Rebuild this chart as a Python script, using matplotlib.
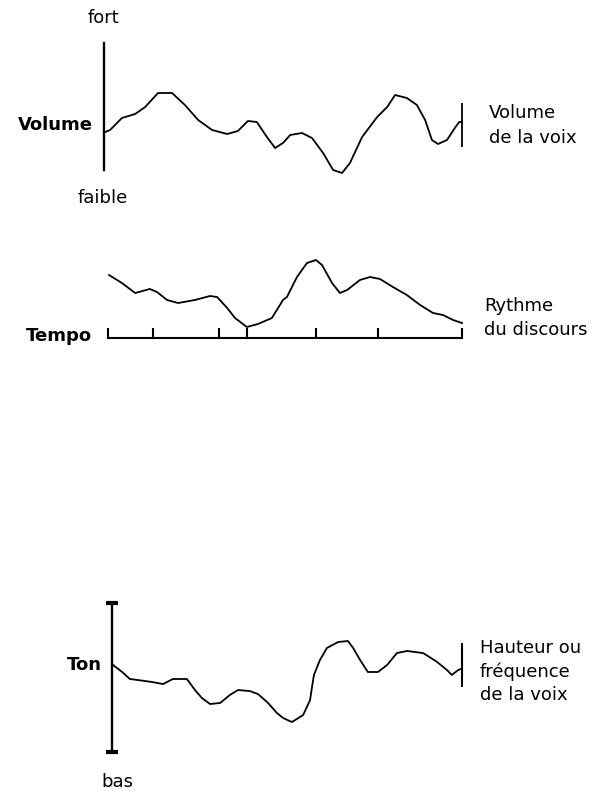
import matplotlib
matplotlib.use("Agg")
import matplotlib.pyplot as plt

#=======# données #=======#
# Volume de la voix (0 = faible, 10 = fort), temps 0..100
vol_t = [0, 1.7, 5.0, 8.7, 11.5, 15.1, 19.0, 22.6, 26.3, 30.2, 34.4, 37.4, 40.2, 42.7,
         45.5, 47.8, 50.0, 52.0, 55.3, 58.1, 61.2, 64.0, 66.5, 68.7, 72.1, 76.3, 79.1,
         81.3, 84.6, 87.4, 89.7, 91.6, 93.3, 95.8, 98.0, 99.2, 100]
vol_v = [3.0, 3.2, 4.16, 4.48, 5.04, 6.16, 6.16, 5.2, 4.0, 3.2, 2.88, 3.12, 3.92, 3.84,
         2.64, 1.76, 2.16, 2.8, 2.96, 2.56, 1.36, 0.0, -0.24, 0.56, 2.64, 4.24, 5.04,
         6.0, 5.76, 5.2, 4.0, 2.4, 2.08, 2.4, 3.36, 3.84, 3.84]

# Rythme du discours
tempo_t = [1.4, 5.0, 8.7, 12.8, 14.8, 17.6, 20.7, 25.4, 29.6, 31.6, 34.4, 36.6, 39.9,
           43.0, 46.9, 50.0, 51.1, 53.9, 56.7, 59.2, 60.9, 63.7, 65.9, 67.9, 71.5, 74.3,
           77.1, 80.7, 84.6, 88.3, 91.9, 94.7, 97.5, 100]
tempo_r = [6.3, 5.5, 4.5, 4.9, 4.6, 3.8, 3.5, 3.8, 4.2, 4.1, 3.0, 2.0, 1.1,
           1.4, 2.0, 3.8, 4.1, 6.1, 7.5, 7.8, 7.3, 5.5, 4.5, 4.8, 5.8, 6.1,
           5.9, 5.1, 4.3, 3.3, 2.5, 2.3, 1.8, 1.5]
tempo_ticks = [1, 13.7, 32.1, 39.9, 59.2, 76.5, 100]

# Hauteur ou fréquence de la voix (0 = bas, 10 = haut)
ton_t = [0.3, 2.9, 5.1, 7.4, 11.4, 14.6, 17.4, 21.4, 23.7, 25.7, 28.0, 30.9, 33.7, 36.0,
         39.4, 41.7, 44.6, 47.1, 48.9, 51.4, 54.6, 56.6, 57.1, 57.7, 59.4, 61.4, 64.6,
         67.4, 68.9, 70.9, 73.1, 76.0, 78.6, 81.4, 84.3, 88.9, 92.9, 95.7, 97.1, 98.9, 100]
ton_h = [5.84, 5.37, 4.9, 4.83, 4.7, 4.56, 4.9, 4.9, 4.16, 3.62, 3.22, 3.29, 3.83, 4.16,
         4.09, 3.89, 3.29, 2.62, 2.28, 2.01, 2.48, 3.49, 4.3, 5.17, 6.17, 6.98, 7.38,
         7.45, 6.98, 6.17, 5.37, 5.37, 5.84, 6.64, 6.78, 6.64, 6.04, 5.5, 5.17, 5.5, 5.6]

vol_bracket = (1.84, 5.36)
ton_bracket = (4.36, 7.3)

W, H = 604, 791
fig = plt.figure(figsize=(W / 100, H / 100), dpi=100)

def px(x, y):
    # pixel (haut-gauche) -> fraction de la figure
    return x / W, 1 - y / H

def clean(ax):
    for s in ax.spines.values():
        s.set_visible(False)
    ax.set_xticks([])
    ax.set_yticks([])
    ax.patch.set_alpha(0)

#=======# Volume #=======#
ax1 = fig.add_axes([104 / W, 1 - 170 / H, 358 / W, 125 / H])
clean(ax1)
ax1.set_xlim(0, 100)
ax1.set_ylim(0, 10)
ax1.plot(vol_t, vol_v, color='k', lw=1.3, clip_on=False)
ax1.plot([0, 0], [0, 10.2], color='k', lw=1.7, clip_on=False)
ax1.vlines(100, *vol_bracket, color='k', lw=1.3, clip_on=False)

#=======# Tempo #=======#
ax2 = fig.add_axes([104 / W, 1 - 338 / H, 358 / W, 80 / H])
clean(ax2)
ax2.set_xlim(0, 100)
ax2.set_ylim(0, 8)
ax2.spines['bottom'].set_visible(True)
ax2.spines['bottom'].set_bounds(1, 100)
ax2.spines['bottom'].set_linewidth(1.5)
ax2.set_xticks(tempo_ticks)
ax2.set_xticklabels([])
ax2.tick_params(axis='x', direction='in', length=7, width=1.5)
ax2.plot(tempo_t, tempo_r, color='k', lw=1.3, clip_on=False)

#=======# Ton #=======#
ax3 = fig.add_axes([112 / W, 1 - 752 / H, 350 / W, 149 / H])
clean(ax3)
ax3.set_xlim(0, 100)
ax3.set_ylim(0, 10)
ax3.plot([0, 0], [0, 10], color='k', lw=1.7, marker='_', ms=8, mew=3, clip_on=False)
ax3.plot(ton_t, ton_h, color='k', lw=1.3, clip_on=False)
ax3.vlines(100, *ton_bracket, color='k', lw=1.5, clip_on=False)

#=======# textes #=======#
fs = 13
fig.text(*px(93, 125), "Volume", ha='right', va='center', fontsize=fs, fontweight='bold')
fig.text(*px(103, 18), "fort", ha='center', va='center', fontsize=fs)
fig.text(*px(103, 198), "faible", ha='center', va='center', fontsize=fs)
fig.text(*px(489, 113), "Volume", ha='left', va='center', fontsize=fs)
fig.text(*px(489, 138), "de la voix", ha='left', va='center', fontsize=fs)

fig.text(*px(92, 336), "Tempo", ha='right', va='center', fontsize=fs, fontweight='bold')
fig.text(*px(484, 306), "Rythme", ha='left', va='center', fontsize=fs)
fig.text(*px(484, 330), "du discours", ha='left', va='center', fontsize=fs)

fig.text(*px(102, 665), "Ton", ha='right', va='center', fontsize=fs, fontweight='bold')
fig.text(*px(117, 782), "bas", ha='center', va='center', fontsize=fs)
fig.text(*px(480, 648), "Hauteur ou", ha='left', va='center', fontsize=fs)
fig.text(*px(480, 672), "fréquence", ha='left', va='center', fontsize=fs)
fig.text(*px(480, 695), "de la voix", ha='left', va='center', fontsize=fs)

fig.savefig("out.png", dpi=100, facecolor='white')
